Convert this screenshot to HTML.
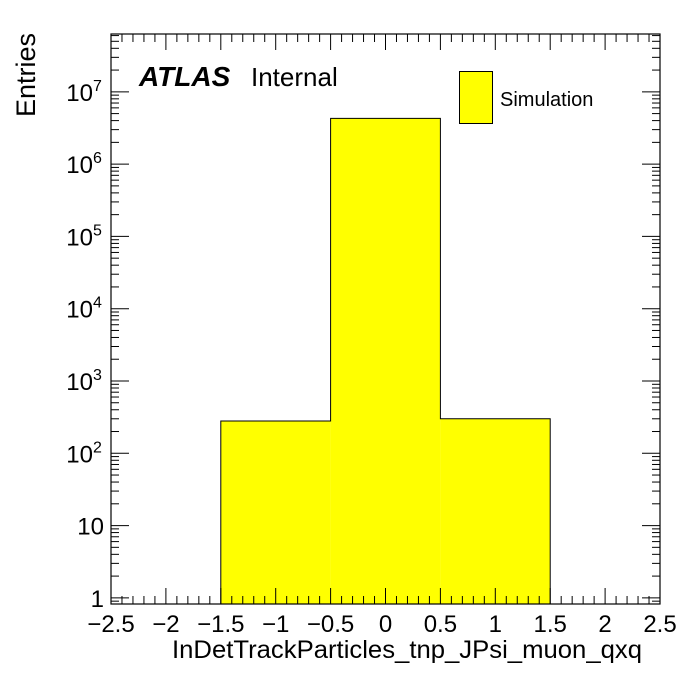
<!DOCTYPE html>
<html><head><meta charset="utf-8"><style>
body{margin:0;background:#fff;}
svg text{font-family:"Liberation Sans",Arial,sans-serif;fill:#000;}
</style></head><body>
<svg id="chart" width="696" height="672" xmlns="http://www.w3.org/2000/svg">
<rect width="696" height="672" fill="#fff"/>
<g id="bars"></g>
<g id="axes"></g>
<text x="139" y="86" font-size="28" font-weight="bold" font-style="italic">ATLAS</text>
<text x="251" y="86" font-size="26">Internal</text>
<rect x="459.5" y="71.5" width="33" height="52" fill="#ffff00" stroke="#000" stroke-width="1"/>
<text x="500" y="106" font-size="20">Simulation</text>
<text transform="translate(35,117) rotate(-90)" font-size="27">Entries</text>
<text x="642" y="658" font-size="25" text-anchor="end" textLength="470" lengthAdjust="spacingAndGlyphs">InDetTrackParticles_tnp_JPsi_muon_qxq</text>
</svg>
<script>
const binEdges = [-1.5, -0.5, 0.5, 1.5];
const binValues = [280, 4300000, 300];
const xTicks = [-2.5, -2, -1.5, -1, -0.5, 0, 0.5, 1, 1.5, 2, 2.5];
const xTickLabels = ["\u22122.5","\u22122","\u22121.5","\u22121","\u22120.5","0","0.5","1","1.5","2","2.5"];
const yDecades = [0, 1, 2, 3, 4, 5, 6, 7];

const L=111, R=660, T=34, B=604;
const xMin=-2.5, xMax=2.5, yLogMin=-0.085, yLogMax=7.8;
const NS='http://www.w3.org/2000/svg';
function X(v){return L+(v-xMin)/(xMax-xMin)*(R-L);}
function Y(v){return B-(Math.log10(v)-yLogMin)/(yLogMax-yLogMin)*(B-T);}
function mk(tag,attrs,parent){const e=document.createElementNS(NS,tag);for(const k in attrs)e.setAttribute(k,attrs[k]);parent.appendChild(e);return e;}

const bars=document.getElementById('bars');
let d='M'+X(binEdges[0])+','+B;
for(let i=0;i<binValues.length;i++){
  const x0=X(binEdges[i]), x1=X(binEdges[i+1]), y=Y(binValues[i]);
  const r=mk('rect',{x:x0,y:y,width:x1-x0,height:B-y,fill:'#ffff00'},bars);
  
  
  d+=' L'+x0+','+y+' L'+x1+','+y;
}
d+=' L'+X(binEdges[binEdges.length-1])+','+B;
const outline=mk('path',{d:d,fill:'none',stroke:'#000','stroke-width':1},bars);



const ax=document.getElementById('axes');
const frame=mk('rect',{x:L,y:T,width:R-L,height:B-T,fill:'none',stroke:'#000','stroke-width':1.2},ax);


function line(x1,y1,x2,y2){mk('line',{x1,y1,x2,y2,stroke:'#000','stroke-width':1},ax);}
for(let k=-25;k<=25;k++){
  const v=k/10, x=X(v), major=(k%5===0), len=major?16:8;
  line(x,B,x,B-len); line(x,T,x,T+len);
}
xTicks.forEach((v,i)=>{
  const t=mk('text',{x:X(v),y:632,'font-size':24,'text-anchor':'middle'},ax);
  t.textContent=xTickLabels[i];
  
  
});
for(let dd=-1;dd<=7;dd++){
  for(let m=1;m<=9;m++){
    const v=m*Math.pow(10,dd), y=Y(v);
    if(y<T-0.5||y>B+0.5)continue;
    const len=m===1?18:8;
    line(L,y,L+len,y); line(R,y,R-len,y);
  }
}
yDecades.forEach(dd=>{
  const y=Y(Math.pow(10,dd));
  const t=mk('text',{x:104,y:y+9,'font-size':24,'text-anchor':'end'},ax);
  
  
  if(dd===0)t.textContent='1';
  else if(dd===1)t.textContent='10';
  else{
    t.textContent='10';
    t.setAttribute('x',93);
    const s=mk('text',{x:93,y:y-1,'font-size':16},ax);
    s.textContent=String(dd);
    
    
  }
});
</script>
</body></html>
